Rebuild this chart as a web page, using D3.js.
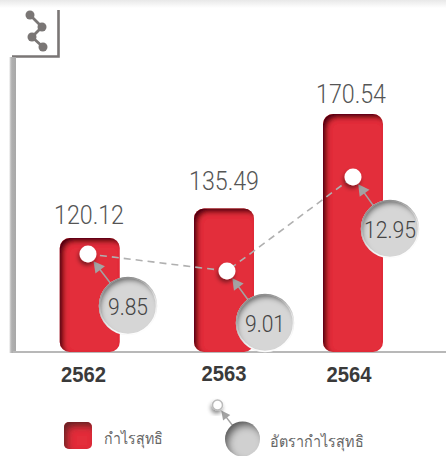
<!DOCTYPE html>
<html><head><meta charset="utf-8">
<script src="https://cdn.jsdelivr.net/npm/d3@7"></script>
<style>html,body{margin:0;padding:0;background:#fff}svg{display:block}</style>
</head><body><svg id="c" width="446" height="456"></svg>
<script>
const categories = ["2562","2563","2564"];
const profit = [120.12,135.49,170.54];
const margin = [9.85,9.01,12.95];
const seriesNames = ["กำไรสุทธิ","อัตรากำไรสุทธิ"];

const svg = d3.select("#c");
const defs = svg.append("defs");
const baseY = 352;
const xBar = d3.scaleOrdinal().domain(categories).range([89.75,224,353]);
const xDot = d3.scaleOrdinal().domain(categories).range([88,227,353]);
const xLabel = d3.scaleOrdinal().domain(categories).range([83.5,224,349]);
const xValue = d3.scaleOrdinal().domain(categories).range([89,224,351]);
const yValue = d3.scaleOrdinal().domain(categories).range([224,190,103]);
const heightScale = d3.scaleLinear().domain([120.12,135.49,170.54]).range([114,143.5,238]);
const y = v => baseY - heightScale(v);
const yRate = d3.scaleLinear().domain([9.01,9.85,12.95]).range([271,254,177]);

function innerShadow(id,dx,dy,blur,color,op){
  const f = defs.append("filter").attr("id",id).attr("x","-20%").attr("y","-20%").attr("width","140%").attr("height","140%");
  f.append("feOffset").attr("in","SourceAlpha").attr("dx",dx).attr("dy",dy).attr("result","o");
  f.append("feGaussianBlur").attr("in","o").attr("stdDeviation",blur).attr("result","b");
  f.append("feComposite").attr("in","SourceAlpha").attr("in2","b").attr("operator","out").attr("result","cut");
  f.append("feFlood").attr("flood-color",color).attr("flood-opacity",op);
  f.append("feComposite").attr("in2","cut").attr("operator","in").attr("result","sh");
  const m = f.append("feMerge");
  m.append("feMergeNode").attr("in","SourceGraphic");
  m.append("feMergeNode").attr("in","sh");
}
innerShadow("barInner",4,4,2.4,"#3a0509",0.95);
innerShadow("circInner",2,4,2.4,"#222",0.8);
innerShadow("legInner",4,5,3.5,"#222",0.85);

const drop = defs.append("filter").attr("id","dotDrop").attr("x","-60%").attr("y","-60%").attr("width","220%").attr("height","220%");
drop.append("feDropShadow").attr("dx",-1).attr("dy",3).attr("stdDeviation",2).attr("flood-color","#000").attr("flood-opacity",0.45);

const topG = defs.append("linearGradient").attr("id","topBand").attr("x1",0).attr("y1",0).attr("x2",0).attr("y2",1);
topG.append("stop").attr("offset",0).attr("stop-color","#e8e8e8");
topG.append("stop").attr("offset",1).attr("stop-color","#ffffff");
const axG = defs.append("linearGradient").attr("id","axisG").attr("x1",0).attr("y1",0).attr("x2",1).attr("y2",0);
axG.append("stop").attr("offset",0).attr("stop-color","#dcdcdc");
axG.append("stop").attr("offset",0.35).attr("stop-color","#b0b0b0");
axG.append("stop").attr("offset",1).attr("stop-color","#a8a8a8");

svg.append("rect").attr("x",0).attr("y",0).attr("width",446).attr("height",8).attr("fill","url(#topBand)");

// icon corner
svg.append("path").attr("d","M12 56.5H58.5V10").attr("fill","none").attr("stroke","#7a7675").attr("stroke-width",2.6);
const iconPts = [[30,15],[42,27],[32,37],[43,47]];
svg.append("path").attr("d",d3.line()(iconPts)).attr("fill","none").attr("stroke","#7a7675").attr("stroke-width",2.8);
svg.selectAll(".ic").data(iconPts).join("circle").attr("cx",d=>d[0]).attr("cy",d=>d[1]).attr("r",4.5).attr("fill","#7a7675");

// axes
svg.append("rect").attr("x",9.5).attr("y",57).attr("width",6.5).attr("height",296).attr("fill","url(#axisG)");
svg.append("rect").attr("x",13).attr("y",351).attr("width",433).attr("height",2).attr("fill","#b8b8b8");

// bars
svg.selectAll(".bar").data(categories).join("rect").attr("class","bar")
 .attr("x",d=>xBar(d)-30).attr("width",60)
 .attr("y",(d,i)=>y(profit[i])).attr("height",(d,i)=>baseY-y(profit[i]))
 .attr("rx",10).attr("fill","#e32e3a").attr("filter","url(#barInner)");

// values above the bars
svg.selectAll(".val").data(categories).join("text")
 .attr("x",d=>xValue(d)).attr("y",d=>yValue(d))
 .attr("text-anchor","middle").attr("font-family","Roboto,sans-serif").attr("font-weight",300)
 .attr("font-size",26).attr("fill","#555")
 .attr("textLength",70).attr("lengthAdjust","spacingAndGlyphs")
 .text((d,i)=>profit[i].toFixed(2));

// dashed line
const pts = categories.map((d,i)=>[xDot(d),yRate(margin[i])]);
svg.append("path").attr("d",d3.line()(pts)).attr("fill","none").attr("stroke","#b0b0b0").attr("stroke-width",1.6).attr("stroke-dasharray","7 5");

// arrows from bubble to dot
const bub = [[128,306],[265,323],[390,229]];
function arrow(g,bx,by,px,py,gap,l,w){
  const a=Math.atan2(by-py,bx-px),ux=Math.cos(a),uy=Math.sin(a);
  const tx=px+ux*gap,ty=py+uy*gap;
  g.append("line").attr("x1",bx).attr("y1",by).attr("x2",tx+ux*l/2).attr("y2",ty+uy*l/2).attr("stroke","#a3a3a3").attr("stroke-width",1.5);
  g.append("path").attr("d",`M${tx} ${ty}L${tx+ux*l-uy*w} ${ty+uy*l+ux*w}L${tx+ux*l+uy*w} ${ty+uy*l-ux*w}Z`).attr("fill","#a3a3a3");
}
svg.selectAll(".arrow").data(categories).join("g").each(function(d,i){
  arrow(d3.select(this),bub[i][0],bub[i][1],pts[i][0],pts[i][1],9,11,6);
});

// dots
svg.selectAll(".dot").data(categories).join("circle")
 .attr("cx",(d,i)=>pts[i][0]).attr("cy",(d,i)=>pts[i][1]).attr("r",8.5).attr("fill","#fff").attr("filter","url(#dotDrop)");

// bubbles
svg.selectAll(".bub").data(categories).join("circle")
 .attr("cx",(d,i)=>bub[i][0]).attr("cy",(d,i)=>bub[i][1]).attr("r",28.5)
 .attr("fill","#d6d6d6").attr("stroke","#fff").attr("stroke-width",1.5).attr("filter","url(#circInner)");
svg.selectAll(".bubt").data(categories).join("text")
 .attr("x",(d,i)=>bub[i][0]).attr("y",(d,i)=>bub[i][1]+8.5)
 .attr("text-anchor","middle").attr("font-family","Roboto,sans-serif").attr("font-weight",300)
 .attr("font-size",24).attr("fill","#444")
 .attr("textLength",(d,i)=>i===2?52:40).attr("lengthAdjust","spacingAndGlyphs")
 .text((d,i)=>margin[i].toFixed(2));

// category labels
svg.selectAll(".cat").data(categories).join("text")
 .attr("x",d=>xLabel(d)).attr("y",(d,i)=>[382,381,382][i])
 .attr("text-anchor","middle").attr("font-family","'Liberation Sans',sans-serif").attr("font-weight",700)
 .attr("font-size",22).attr("fill","#3a3a3a")
 .attr("textLength",45).attr("lengthAdjust","spacingAndGlyphs").text(d=>d);

// legend
svg.append("rect").attr("x",64).attr("y",422).attr("width",28).attr("height",27).attr("rx",5).attr("fill","#e32e3a").attr("filter","url(#legInner)");
svg.append("text").attr("x",104).attr("y",444).attr("font-family","'Noto Sans',sans-serif").attr("font-size",16).attr("fill","#666")
 .attr("textLength",59).attr("lengthAdjust","spacingAndGlyphs").text(seriesNames[0]);
const legendArrow = svg.append("g");
arrow(legendArrow,242,438,217,405,7,9,4.5);
svg.append("circle").attr("cx",217.5).attr("cy",405).attr("r",5).attr("fill","#fff").attr("stroke","#bbb").attr("stroke-width",1.5).attr("filter","url(#dotDrop)");
svg.append("circle").attr("cx",242.5).attr("cy",439).attr("r",17.5).attr("fill","#d0d0d0").attr("filter","url(#legInner)");
svg.append("text").attr("x",270).attr("y",447).attr("font-family","'Noto Sans',sans-serif").attr("font-size",16).attr("fill","#666")
 .attr("textLength",94).attr("lengthAdjust","spacingAndGlyphs").text(seriesNames[1]);
</script></body></html>
